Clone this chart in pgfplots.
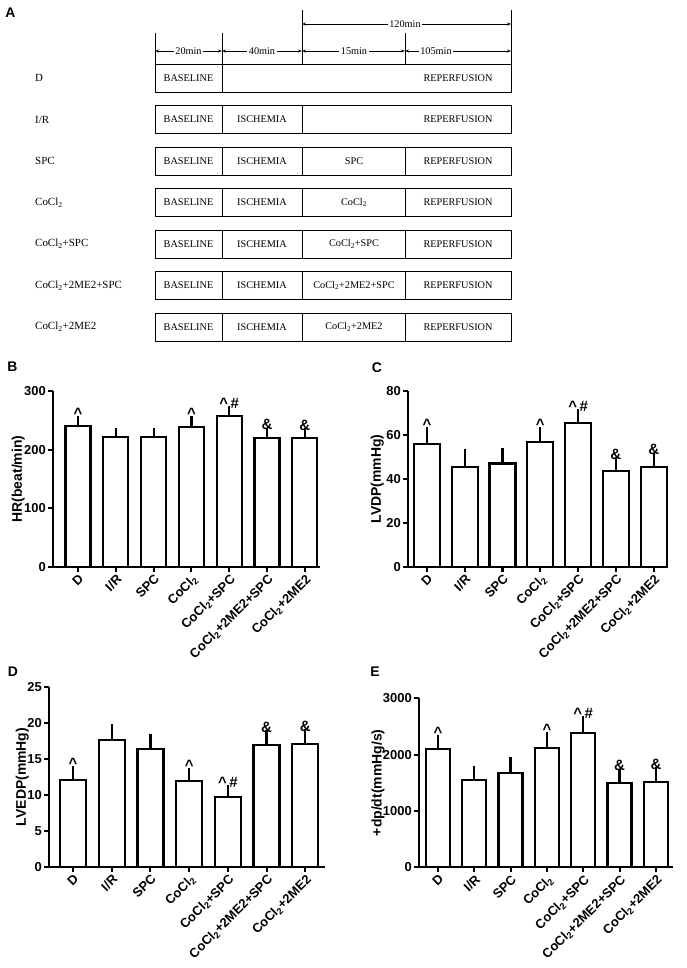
\documentclass[border=0pt]{standalone}
\usepackage{fontspec}
\setmainfont{Liberation Sans}
\newfontfamily\timesfont{Liberation Serif}
\usepackage{pgfplots}
\pgfplotsset{compat=1.18}
\usetikzlibrary{arrows.meta}

\pgfplotsset{
  gp/.style={
    scale only axis,
    clip=false,
    axis x line*=bottom,
    axis y line*=left,
    axis line style={line width=2.1bp},
    ymin=0,
    xtick={0,1,2,3,4,5,6},
    xticklabels={D,I/R,SPC,CoCl\textsubscript{2},CoCl\textsubscript{2}+SPC,CoCl\textsubscript{2}+2ME2+SPC,CoCl\textsubscript{2}+2ME2},
    xticklabel style={rotate=45,anchor=north east,inner sep=1bp,font=\fontsize{13}{13}\selectfont\bfseries},
    yticklabel style={font=\fontsize{13}{13}\selectfont\bfseries, inner sep=2bp},
    ylabel style={font=\fontsize{14}{14}\selectfont\bfseries},
    ylabel shift=-6bp,
    /pgf/number format/assume math mode=true,
    /pgf/number format/1000 sep={},
    tick style={line width=2.1bp,black},
    major tick length=5bp,
    tick align=outside,
  },
  gpbar/.style={ybar, bar width=#1, fill=white, draw=black, line width=2.2bp,
    error bars/.cd, y dir=plus, y explicit,
    error bar style={line width=2.2bp},
    error mark options={line width=2.2bp, mark size=4.5bp}},
}
\tikzset{
  ann/.style={font=\fontsize{15}{15}\selectfont\bfseries, anchor=south, inner sep=2bp},
  tA/.style={font=\timesfont\fontsize{10.3}{11}\selectfont},
  tL/.style={font=\timesfont\fontsize{11}{12}\selectfont, anchor=west, inner sep=0pt},
  arr/.style={{Stealth[length=4bp,width=3bp]}-{Stealth[length=4bp,width=3bp]}, line width=0.7bp},
  bx/.style={line width=0.9bp},
  plab/.style={font=\fontsize{14}{14}\selectfont\bfseries, inner sep=0pt}
}

\pgfplotstableread{
x y e
0 240 10
1 221.5 8.5
2 222 8
3 239 10
4 257 9
5 220 10
6 220 9
}\tabB
\pgfplotstableread{
x y e
0 55.8 5.7
1 45.6 5.8
2 47.0 5.0
3 56.8 4.7
4 65.3 4.5
5 43.8 4.1
6 45.3 4.6
}\tabC
\pgfplotstableread{
x y e
0 12.1 1.3
1 17.6 1.6
2 16.4 1.5
3 11.9 1.2
4 9.7 1.1
5 16.9 1.5
6 17.1 1.4
}\tabD
\pgfplotstableread{
x y e
0 2100 172
1 1544 183
2 1669 201
3 2124 189
4 2379 218
5 1491 178
6 1514 178
}\tabE

\begin{document}
\begin{tikzpicture}[x=1bp,y=1bp]
\path[use as bounding box] (0,0) rectangle (687,968);

% ---------------- Panel A ----------------
\node[plab] at (10.5,955) {A};
\draw[bx] (155,935) -- (155,904);
\draw[bx] (222,935) -- (222,904);
\draw[bx] (302,958) -- (302,904);
\draw[bx] (405,935) -- (405,904);
\draw[bx] (511,958) -- (511,904);
\draw[arr] (302,944) -- (511,944);
\node[tA, fill=white, inner sep=1.5bp] at (405,944) {120min};
\draw[arr] (155,917) -- (222,917);
\node[tA, fill=white, inner sep=1.5bp] at (188.5,917) {20min};
\draw[arr] (222,917) -- (302,917);
\node[tA, fill=white, inner sep=1.5bp] at (262,917) {40min};
\draw[arr] (302,917) -- (405,917);
\node[tA, fill=white, inner sep=1.5bp] at (354,917) {15min};
\draw[arr] (405,917) -- (511,917);
\node[tA, fill=white, inner sep=1.5bp] at (436,917) {105min};

\draw[bx] (155,876) rectangle (511,904);
\draw[bx] (222,876) -- (222,904);
\node[tL] at (35,890) {D};
\node[tA] at (188.5,890) {BASELINE};
\node[tA] at (458,890) {REPERFUSION};
\draw[bx] (155,834.5) rectangle (511,862.5);
\draw[bx] (222,834.5) -- (222,862.5);
\draw[bx] (302,834.5) -- (302,862.5);
\node[tL] at (35,848.5) {I/R};
\node[tA] at (188.5,848.5) {BASELINE};
\node[tA] at (262,848.5) {ISCHEMIA};
\node[tA] at (458,848.5) {REPERFUSION};
\foreach \yc/\lab/\mid in {807/SPC/SPC,
    765.5/CoCl\textsubscript{2}/CoCl\textsubscript{2},
    724/CoCl\textsubscript{2}+SPC/CoCl\textsubscript{2}+SPC,
    682.5/CoCl\textsubscript{2}+2ME2+SPC/CoCl\textsubscript{2}+2ME2+SPC,
    641/CoCl\textsubscript{2}+2ME2/CoCl\textsubscript{2}+2ME2}{
  \draw[bx] (155,\yc-14) rectangle (511,\yc+14);
  \draw[bx] (222,\yc-14) -- (222,\yc+14);
  \draw[bx] (302,\yc-14) -- (302,\yc+14);
  \draw[bx] (405,\yc-14) -- (405,\yc+14);
  \node[tL] at (35,\yc) {\lab};
  \node[tA] at (188.5,\yc) {BASELINE};
  \node[tA] at (262,\yc) {ISCHEMIA};
  \node[tA] at (354,\yc) {\mid};
  \node[tA] at (458,\yc) {REPERFUSION};
}

\node[plab] at (12.5,601) {B};
\node[plab] at (377,600) {C};
\node[plab] at (13,296) {D};
\node[plab] at (375,296) {E};

\begin{axis}[gp, at={(53bp,401bp)}, anchor=south west,
  width=267bp, height=176bp, xmin=-0.66, xmax=6.40, ymax=300,
  ytick={0,100,200,300}, ylabel={HR(beat/min)}]
\addplot[gpbar=25bp] table[x=x,y=y,y error=e]{\tabB};
\node[ann] at (axis cs:0,250) {\textasciicircum};
\node[ann] at (axis cs:3,249) {\textasciicircum};
\node[ann] at (axis cs:4,266) {\textasciicircum\,\#};
\node[ann] at (axis cs:5,230) {\&};
\node[ann] at (axis cs:6,229) {\&};
\end{axis}

\begin{axis}[gp, at={(408bp,401bp)}, anchor=south west,
  width=260bp, height=176bp, xmin=-0.50, xmax=6.38, ymax=80,
  ytick={0,20,40,60,80}, ylabel={LVDP(mmHg)}, ylabel shift=-3bp]
\addplot[gpbar=26bp] table[x=x,y=y,y error=e]{\tabC};
\node[ann] at (axis cs:0,61.5) {\textasciicircum};
\node[ann] at (axis cs:3,61.5) {\textasciicircum};
\node[ann] at (axis cs:4,69.8) {\textasciicircum\,\#};
\node[ann] at (axis cs:5,47.9) {\&};
\node[ann] at (axis cs:6,49.9) {\&};
\end{axis}

\begin{axis}[gp, at={(49bp,101bp)}, anchor=south west,
  width=276bp, height=180bp, xmin=-0.62, xmax=6.51, ymax=25,
  ytick={0,5,10,15,20,25}, ylabel={LVEDP(mmHg)}, ylabel shift=-7bp]
\addplot[gpbar=26bp] table[x=x,y=y,y error=e]{\tabD};
\node[ann] at (axis cs:0,13.4) {\textasciicircum};
\node[ann] at (axis cs:3,13.1) {\textasciicircum};
\node[ann] at (axis cs:4,10.8) {\textasciicircum\,\#};
\node[ann] at (axis cs:5,18.4) {\&};
\node[ann] at (axis cs:6,18.5) {\&};
\end{axis}

\begin{axis}[gp, at={(419bp,100.7bp)}, anchor=south west,
  width=254bp, height=169bp, xmin=-0.52, xmax=6.47, ymax=3000,
  ytick={0,1000,2000,3000}, ylabel={+dp/dt(mmHg/s)}, ylabel shift=-7bp]
\addplot[gpbar=24bp] table[x=x,y=y,y error=e]{\tabE};
\node[ann] at (axis cs:0,2272) {\textasciicircum};
\node[ann] at (axis cs:3,2313) {\textasciicircum};
\node[ann] at (axis cs:4,2597) {\textasciicircum\,\#};
\node[ann] at (axis cs:5,1669) {\&};
\node[ann] at (axis cs:6,1692) {\&};
\end{axis}
\end{tikzpicture}
\end{document}
